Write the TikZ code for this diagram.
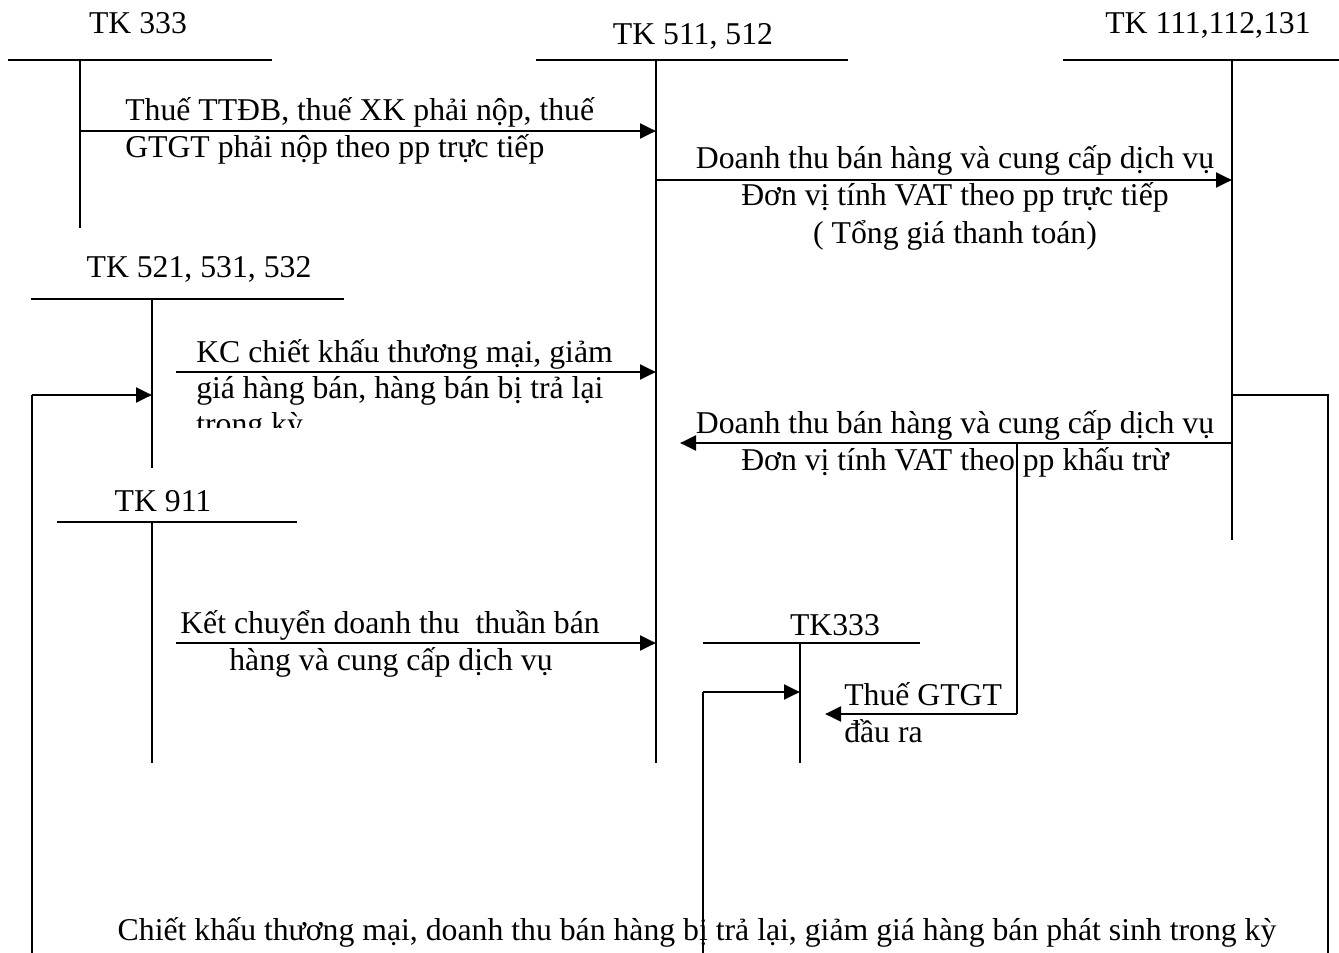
\documentclass[tikz,border=0pt]{standalone}
\usepackage{fontspec}
\setmainfont{Liberation Serif}
\usetikzlibrary{arrows.meta}
\begin{document}
\begin{tikzpicture}[x=0.75pt,y=-0.75pt,
  acct/.style={line width=1.6pt},
  arr/.style={line width=2.2pt,-{Triangle[length=12pt,width=11pt]}},
  link/.style={line width=1.6pt},
  lbl/.style={inner sep=0pt,font=\fontsize{23.8}{28}\selectfont},
  ]
\useasboundingbox (0,0) rectangle (1339,953);

% ---- T-accounts ----
% TK 333 (top left)
\node[lbl,anchor=base] (n333) at (138,33) {TK 333};
\coordinate (a1l) at (8,60);   \coordinate (a1r) at (272,60);
\coordinate (a1t) at (80,60);  \coordinate (a1b) at (80,228);
\draw[acct] (a1l) -- (a1r); \draw[acct] (a1t) -- (a1b);

% TK 511, 512
\node[lbl,anchor=base] (n511) at (693,44) {TK 511, 512};
\coordinate (a2l) at (536,60);  \coordinate (a2r) at (848,60);
\coordinate (a2t) at (656,60);  \coordinate (a2b) at (656,763);
\draw[acct] (a2l) -- (a2r); \draw[acct] (a2t) -- (a2b);

% TK 111,112,131
\node[lbl,anchor=base] (n111) at (1208,33) {TK 111,112,131};
\coordinate (a3l) at (1063,60);  \coordinate (a3r) at (1339,60);
\coordinate (a3t) at (1232,60);  \coordinate (a3b) at (1232,540);
\draw[acct] (a3l) -- (a3r); \draw[acct] (a3t) -- (a3b);

% TK 521, 531, 532
\node[lbl,anchor=base] (n521) at (199,277) {TK 521, 531, 532};
\coordinate (a4l) at (31,299);  \coordinate (a4r) at (344,299);
\coordinate (a4t) at (152,299); \coordinate (a4b) at (152,468);
\draw[acct] (a4l) -- (a4r); \draw[acct] (a4t) -- (a4b);

% TK 911
\node[lbl,anchor=base] (n911) at (163,511) {TK 911};
\coordinate (a5l) at (57,522);  \coordinate (a5r) at (297,522);
\coordinate (a5t) at (152,522); \coordinate (a5b) at (152,763);
\draw[acct] (a5l) -- (a5r); \draw[acct] (a5t) -- (a5b);

% TK333 (small)
\node[lbl,anchor=base] (n333b) at (835,635) {TK333};
\coordinate (a6l) at (703,643);  \coordinate (a6r) at (920,643);
\coordinate (a6t) at (800,643);  \coordinate (a6b) at (800,763);
\draw[acct] (a6l) -- (a6r); \draw[acct] (a6t) -- (a6b);

% ---- Arrow 1: TK333 -> TK511 ----
\coordinate (r1s) at (80,131); \coordinate (r1e) at (656,131);
\draw[arr] (r1s) -- (r1e);
\node[lbl,anchor=base west] (t1a) at (125,120) {Thuế TTĐB, thuế XK phải nộp, thuế};
\node[lbl,anchor=base west] (t1b) at (125,157) {GTGT phải nộp theo pp trực tiếp};

% ---- Arrow 2: TK511 -> TK111 ----
\coordinate (r2s) at (656,180); \coordinate (r2e) at (1232,180);
\draw[arr] (r2s) -- (r2e);
\node[lbl,anchor=base] (t2a) at (955,168) {Doanh thu bán hàng và cung cấp dịch vụ};
\node[lbl,anchor=base] (t2b) at (955,205) {Đơn vị tính VAT theo pp trực tiếp};
\node[lbl,anchor=base] (t2c) at (955,243) {( Tổng giá thanh toán)};

% ---- Arrow 3: TK521 -> TK511 ----
\coordinate (r3s) at (176,372); \coordinate (r3e) at (656,372);
\draw[arr] (r3s) -- (r3e);
\node[lbl,anchor=base west] (t3a) at (196,362) {KC chiết khấu thương mại, giảm};
\node[lbl,anchor=base west] (t3b) at (196,398) {giá hàng bán, hàng bán bị trả lại};
\begin{scope}
  \clip (160,400) rectangle (650,427);
  \node[lbl,anchor=base west] (t3c) at (196,434) {trong kỳ};
\end{scope}

% ---- Arrow 4: TK111 -> left ----
\coordinate (r4s) at (1232,443); \coordinate (r4e) at (680,443);
\draw[arr] (r4s) -- (r4e);
\node[lbl,anchor=base] (t4a) at (955,433) {Doanh thu bán hàng và cung cấp dịch vụ};
\node[lbl,anchor=base] (t4b) at (955,470) {Đơn vị tính VAT theo pp khấu trừ};

% ---- Arrow 5: VAT output -> TK333 small ----
\coordinate (r5a) at (1017,443); \coordinate (r5b) at (1017,714); \coordinate (r5e) at (825,714);
\draw[link] (r5a) -- (r5b);
\draw[arr] (r5b) -- (r5e);
\node[lbl,anchor=base west] (t5a) at (844,705) {Thuế GTGT};
\node[lbl,anchor=base west] (t5b) at (844,742) {đầu ra};

% ---- Arrow 6: TK911 -> TK511 ----
\coordinate (r6s) at (176,643); \coordinate (r6e) at (656,643);
\draw[arr] (r6s) -- (r6e);
\node[lbl,anchor=base west] (t6a) at (180,633) {Kết chuyển doanh thu\ \ thuần bán};
\node[lbl,anchor=base] (t6b) at (391,670) {hàng và cung cấp dịch vụ};

% ---- Loop: discounts in the period ----
\coordinate (l1) at (1232,395); \coordinate (l2) at (1328,395); \coordinate (l3) at (1328,953);
\draw[link] (l1) -- (l2) -- (l3);
\coordinate (l4) at (32,953); \coordinate (l5) at (32,395); \coordinate (l6) at (152,395);
\draw[link] (l4) -- (l5);
\draw[arr] (l5) -- (l6);
\coordinate (l7) at (703,953); \coordinate (l8) at (703,692); \coordinate (l9) at (800,692);
\draw[link] (l7) -- (l8);
\draw[arr] (l8) -- (l9);
\node[lbl,anchor=base] (tb) at (697,940) {Chiết khấu thương mại, doanh thu bán hàng bị trả lại, giảm giá hàng bán phát sinh trong kỳ};
\end{tikzpicture}
\end{document}
